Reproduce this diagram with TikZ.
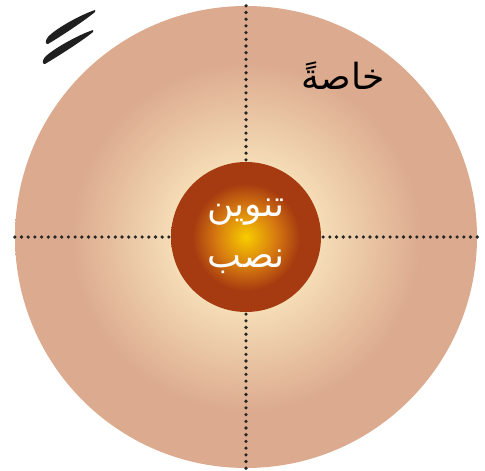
\documentclass[tikz,border=0pt]{standalone}
\usepackage{fontspec}
\newfontfamily\arabicfont[Script=Arabic]{DejaVu Sans}
\TeXXeTstate=1
\definecolor{tanc}{HTML}{DCAA8E}
\definecolor{creamc}{HTML}{F5DDB6}
\definecolor{yelc}{HTML}{F8CC00}
\definecolor{orc}{HTML}{D67A10}
\definecolor{brc}{HTML}{A63A10}
\pgfdeclareradialshading{outerglow}{\pgfpoint{0bp}{0bp}}{color(0bp)=(creamc); color(8bp)=(creamc); color(19bp)=(tanc); color(25bp)=(tanc); color(50bp)=(tanc)}
\pgfdeclareradialshading{innerglow}{\pgfpoint{0bp}{0bp}}{color(0bp)=(yelc); color(10bp)=(orc); color(18bp)=(brc); color(25bp)=(brc); color(50bp)=(brc)}
\tikzset{
  dotline/.style={line width=3.6pt, line cap=round, dash pattern=on 0pt off 6.7pt, black!85},
  artext/.style={font=\arabicfont\fontsize{36}{40}\selectfont, inner sep=0pt},
  stroke/.style={fill=black!88, draw=none}
}
\begin{document}
\begin{tikzpicture}[x=1pt,y=-1pt]
\useasboundingbox (0,0) rectangle (485,471);
% outer circle
\shade[shading=outerglow] (246,237) circle[radius=231];
\node[circle, minimum size=462pt, inner sep=0pt] (outer) at (246,237) {};
% inner circle
\shade[shading=innerglow] (246,237) circle[radius=75];
\node[circle, minimum size=150pt, inner sep=0pt] (inner) at (246,237) {};
% dotted axes
\draw[dotline] (outer.north) -- (inner.north);
\draw[dotline] (outer.south) -- (inner.south);
\draw[dotline] (outer.west) -- (inner.west);
\draw[dotline] (outer.east) -- (inner.east);
% texts
\node[artext, text=black] (khassa) at (343,76) {\beginR خاصةً\endR};
\node[artext, text=white] (tanwin) at (246,212) {\beginR تنوين\endR};
\node[artext, text=white] (nasb) at (246,262) {\beginR نصب\endR};
% tanwin fath mark, top left
\fill[stroke] (95,10) .. controls (80,15) and (55,29) .. (48,37)
  .. controls (45,41) and (45,44) .. (48,44)
  .. controls (63,35) and (84,21) .. (95,12) -- cycle;
\fill[stroke] (93,30) .. controls (78,35) and (53,49) .. (45,57)
  .. controls (42,61) and (42,64) .. (45,64)
  .. controls (60,55) and (82,41) .. (93,32) -- cycle;
\end{tikzpicture}
\end{document}
